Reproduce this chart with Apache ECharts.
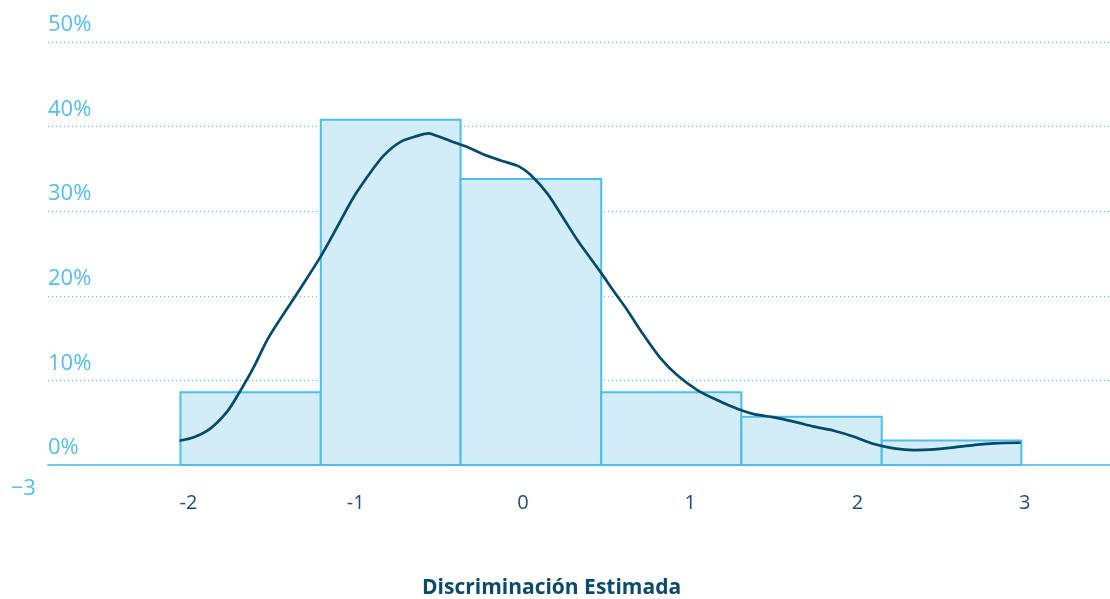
<!DOCTYPE html>
<html>
<head>
<meta charset="utf-8">
<script src="https://cdn.jsdelivr.net/npm/echarts@6/dist/echarts.min.js"></script>
<style>
html,body{margin:0;padding:0;background:#fff;}
#chart{width:1110px;height:599px;}
</style>
</head>
<body>
<div id="chart"></div>
<script>
// ---- data ----
var binEdges = [-2.048, -1.209, -0.373, 0.468, 1.306, 2.145, 2.980];
var binPercent = [8.6, 40.8, 33.8, 8.6, 5.7, 2.9];
var densityX = [-2.054,-1.968,-1.868,-1.769,-1.699,-1.609,-1.529,-1.450,-1.330,-1.211,-1.131,-1.011,-0.911,-0.832,-0.732,-0.632,-0.563,-0.513,-0.433,-0.333,-0.234,-0.134,-0.025,0.045,0.145,0.225,0.325,0.464,0.544,0.624,0.703,0.823,0.923,1.042,1.182,1.301,1.381,1.501,1.620,1.740,1.859,1.979,2.099,2.218,2.338,2.458,2.577,2.697,2.816,2.976];
var densityY = [2.87,3.27,4.33,6.30,8.47,11.6,14.8,17.3,20.9,24.6,27.4,31.7,34.6,36.6,38.2,38.9,39.2,38.9,38.3,37.6,36.7,36.0,35.3,34.3,32.1,29.7,26.6,22.8,20.5,18.3,15.9,12.6,10.6,8.86,7.48,6.50,6.02,5.63,5.12,4.53,4.05,3.35,2.48,1.97,1.77,1.85,2.09,2.36,2.56,2.63];
var xTickValues = [-2, -1, 0, 1, 2, 3];
var yTickLabels = ['0%', '10%', '20%', '30%', '40%', '50%'];
var extraXTick = -3;
var xTitle = 'Discriminación Estimada';

var lightBlue = '#55bdec';
var darkBlue = '#0b4a6a';

var barData = binPercent.map(function (v, i) { return [binEdges[i], binEdges[i + 1], v]; });
var lineData = densityX.map(function (x, i) { return [x, densityY[i]]; });

var chart = echarts.init(document.getElementById('chart'));
var option = {
  animation: false,
  textStyle: { fontFamily: 'Open Sans' },
  title: {
    text: xTitle,
    left: 417,
    top: 573,
    textStyle: { color: darkBlue, fontSize: 21, fontWeight: 'bold', fontFamily: 'Open Sans' }
  },
  grid: { left: 48, right: 0, top: 42, bottom: 134 },
  xAxis: {
    type: 'value',
    min: -2.84,
    max: 3.51,
    axisLine: { show: true, onZero: false, lineStyle: { color: '#6ccbf3', width: 2 } },
    axisTick: { show: false },
    splitLine: { show: false },
    axisLabel: {
      customValues: xTickValues,
      color: '#1c4f6d',
      fontSize: 20,
      margin: 28,
      formatter: function (v) { return String(v); }
    }
  },
  yAxis: {
    type: 'value',
    min: 0,
    max: 50,
    interval: 10,
    axisLine: { show: false },
    axisTick: { show: false },
    splitLine: { show: true, lineStyle: { color: '#4fc2f2', type: [1, 3], width: 1 } },
    axisLabel: {
      inside: true,
      margin: 0,
      verticalAlign: 'bottom',
      padding: [0, 0, 6, 0],
      color: lightBlue,
      fontSize: 22,
      formatter: function (v) { return yTickLabels[Math.round(v / 10)]; }
    }
  },
  series: [
    {
      type: 'custom',
      data: barData,
      encode: { x: [0, 1], y: 2 },
      renderItem: function (params, api) {
        var p0 = api.coord([api.value(0), api.value(2)]);
        var p1 = api.coord([api.value(1), 0]);
        return {
          type: 'rect',
          shape: { x: p0[0], y: p0[1], width: p1[0] - p0[0], height: p1[1] - p0[1] },
          style: { fill: '#d2ecf8', stroke: '#4dbde9', lineWidth: 2 }
        };
      },
      z: 2
    },
    {
      type: 'line',
      data: lineData,
      smooth: 0.3,
      showSymbol: false,
      lineStyle: { color: '#034a6b', width: 2.7 },
      z: 3
    }
  ]
};
chart.setOption(option);

var pos = chart.convertToPixel({ gridIndex: 0 }, [extraXTick, 0]);
chart.setOption({
  graphic: [{
    type: 'text',
    x: pos[0] + 2,
    y: pos[1] + 24,
    style: {
      text: String(extraXTick).replace('-', '−'),
      fill: lightBlue,
      fontSize: 22,
      fontFamily: 'Open Sans',
      align: 'center',
      verticalAlign: 'middle'
    }
  }]
});
</script>
</body>
</html>
